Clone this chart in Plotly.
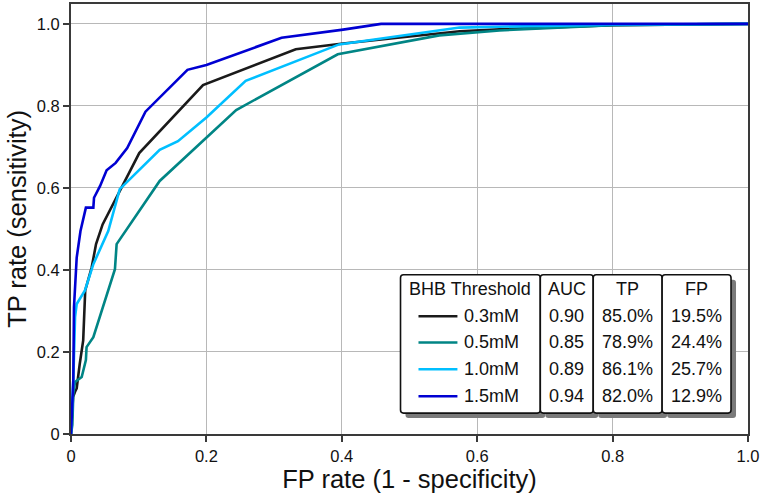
import plotly.graph_objects as go

# ---------------- data ----------------
series_names = ["0.3mM", "0.5mM", "1.0mM", "1.5mM"]
series_colors = ["#1a1a1a", "#008585", "#00BFFF", "#0000D2"]

fpr_03 = [0, 0.003, 0.006, 0.0084, 0.013, 0.018, 0.021, 0.0305, 0.037, 0.0467, 0.1008, 0.195, 0.332, 0.402, 0.574, 0.633, 0.8, 1.0]
tpr_03 = [0, 0.09, 0.103, 0.111, 0.172, 0.228, 0.35, 0.406, 0.463, 0.511, 0.685, 0.851, 0.938, 0.952, 0.982, 0.987, 0.997, 1.0]

fpr_05 = [0, 0.002, 0.0034, 0.006, 0.0158, 0.022, 0.023, 0.033, 0.0649, 0.0674, 0.131, 0.244, 0.394, 0.544, 0.633, 0.8, 1.0]
tpr_05 = [0, 0.022, 0.099, 0.127, 0.139, 0.18, 0.212, 0.236, 0.402, 0.463, 0.617, 0.79, 0.926, 0.972, 0.984, 0.997, 1.0]

fpr_10 = [0, 0.0034, 0.006, 0.0084, 0.0206, 0.033, 0.055, 0.067, 0.072, 0.131, 0.158, 0.200, 0.258, 0.396, 0.574, 0.633, 0.8, 1.0]
tpr_10 = [0, 0.131, 0.285, 0.317, 0.35, 0.414, 0.495, 0.568, 0.597, 0.693, 0.714, 0.772, 0.861, 0.95, 0.991, 0.993, 0.998, 1.0]

fpr_15 = [0, 0.0034, 0.0044, 0.0084, 0.014, 0.022, 0.033, 0.034, 0.043, 0.0526, 0.066, 0.083, 0.110, 0.172, 0.200, 0.311, 0.402, 0.458, 1.0]
tpr_15 = [0, 0.131, 0.309, 0.43, 0.495, 0.552, 0.552, 0.576, 0.605, 0.643, 0.661, 0.697, 0.786, 0.888, 0.900, 0.966, 0.986, 1.0, 1.0]

fpr_all = [fpr_03, fpr_05, fpr_10, fpr_15]
tpr_all = [tpr_03, tpr_05, tpr_10, tpr_15]

table_header = ["BHB Threshold", "AUC", "TP", "FP"]
auc_values = ["0.90", "0.85", "0.89", "0.94"]
tp_values = ["85.0%", "78.9%", "86.1%", "82.0%"]
fp_values = ["19.5%", "24.4%", "25.7%", "12.9%"]

tick_vals = [0, 0.2, 0.4, 0.6, 0.8, 1.0]
tick_text = ["0", "0.2", "0.4", "0.6", "0.8", "1.0"]

# ---------------- layout geometry ----------------
W, H = 761, 497
ML, MR, MT, MB = 71, 12, 2, 63
PW = W - ML - MR
PH = H - MT - MB
FONT = "Liberation Sans, Arial, Helvetica, sans-serif"


def px(xp):
    return (xp - ML) / PW


def py(yp):
    return (H - MB - yp) / PH


def rounded_rect(x0, y0, x1, y1, r=3):
    # pixel coords -> paper path with rounded corners
    rx, ry = r / PW, r / PH
    X0, X1 = px(x0), px(x1)
    Y0, Y1 = py(y0), py(y1)  # Y0 top (larger), Y1 bottom
    return (f"M{X0+rx},{Y0} L{X1-rx},{Y0} Q{X1},{Y0} {X1},{Y0-ry} "
            f"L{X1},{Y1+ry} Q{X1},{Y1} {X1-rx},{Y1} L{X0+rx},{Y1} "
            f"Q{X0},{Y1} {X0},{Y1+ry} L{X0},{Y0-ry} Q{X0},{Y0} {X0+rx},{Y0} Z")


fig = go.Figure()
for name, color, xs, ys in zip(series_names, series_colors, fpr_all, tpr_all):
    fig.add_trace(go.Scatter(x=xs, y=ys, mode="lines", name=name,
                             line=dict(color=color, width=2.6), showlegend=False))

# ---------------- table legend ----------------
box_x = [401, 541, 594, 663, 732]
box_top, box_bot = 274, 413
shadow = 5
shapes = []
for i in range(4):
    shapes.append(dict(type="path", xref="paper", yref="paper",
                       path=rounded_rect(box_x[i] + shadow, box_top + shadow, box_x[i + 1] + shadow, box_bot + shadow),
                       fillcolor="#7a7a7a", line=dict(width=0), layer="above"))
for i in range(4):
    shapes.append(dict(type="path", xref="paper", yref="paper",
                       path=rounded_rect(box_x[i], box_top, box_x[i + 1], box_bot),
                       fillcolor="white", line=dict(color="#111111", width=1.6), layer="above"))

row_y = [315.7, 342, 369, 396]
for color, ry in zip(series_colors, row_y):
    shapes.append(dict(type="line", xref="paper", yref="paper",
                       x0=px(419), x1=px(458), y0=py(ry), y1=py(ry),
                       line=dict(color=color, width=2.6), layer="above"))

annotations = []
centers = [(box_x[i] + box_x[i + 1]) / 2 for i in range(4)]
for c, t in zip(centers, table_header):
    annotations.append(dict(x=px(c), y=py(288.5), xref="paper", yref="paper", text=t,
                            showarrow=False, font=dict(size=18, color="#111111", family=FONT),
                            xanchor="center", yanchor="middle"))
for i, ry in enumerate(row_y):
    annotations.append(dict(x=px(463), y=py(ry), xref="paper", yref="paper", text=series_names[i],
                            showarrow=False, font=dict(size=18, color="#111111", family=FONT),
                            xanchor="left", yanchor="middle"))
    for c, vals in zip(centers[1:], [auc_values, tp_values, fp_values]):
        annotations.append(dict(x=px(c), y=py(ry), xref="paper", yref="paper", text=vals[i],
                                showarrow=False, font=dict(size=18, color="#111111", family=FONT),
                                xanchor="center", yanchor="middle"))

axis_common = dict(
    tickvals=tick_vals, ticktext=tick_text,
    showgrid=True, gridcolor="#b8b8b8", gridwidth=1.4,
    zeroline=False, showline=True, mirror=True,
    linecolor="#3a3a3a", linewidth=2,
    ticks="outside", ticklen=6, tickwidth=1.5, tickcolor="#3a3a3a",
    tickfont=dict(size=16.5, color="#111111", family=FONT),
)

fig.update_layout(
    width=W, height=H,
    margin=dict(l=ML, r=MR, t=MT, b=MB),
    plot_bgcolor="white", paper_bgcolor="white",
    xaxis=dict(range=[0, 1], title=dict(text="FP rate (1 - specificity)", standoff=5,
                                        font=dict(size=25.5, color="#111111", family=FONT)),
               **axis_common),
    yaxis=dict(range=[0, 1.0485], title=dict(text="TP rate (sensitivity)", standoff=3,
                                             font=dict(size=25.5, color="#111111", family=FONT)),
               **axis_common),
    shapes=shapes, annotations=annotations,
)

fig.write_html("out.html", config={"displayModeBar": False},
               post_script="document.body.style.margin='0px';document.body.style.overflow='hidden';")
